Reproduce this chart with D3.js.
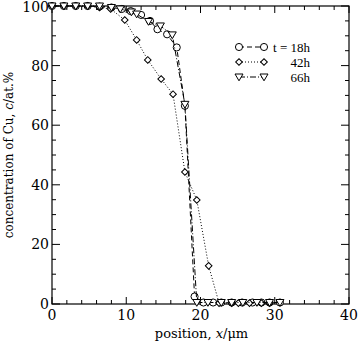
<!DOCTYPE html>
<html>
<head>
<meta charset="utf-8">
<script src="https://cdn.jsdelivr.net/npm/d3@7"></script>
<style>
  html, body { margin: 0; padding: 0; background: #fff; }
  svg { display: block; }
  text { font-family: "DejaVu Serif", "Liberation Serif", serif; fill: #000; }
  text.leg { font-family: "Liberation Serif", serif; }
</style>
</head>
<body>
<svg id="chart" width="359" height="345"></svg>
<script>
// Cu concentration profiles after annealing for 18 h, 42 h and 66 h
const x18 = [0, 1.6, 3.2, 4.8, 6.4, 8.0, 9.4, 10.6, 12.0, 13.2, 14.2, 15.5, 16.8, 17.9, 19.2, 20.4, 21.7, 22.8, 24.2, 25.6, 27.0, 28.2, 29.3, 30.7];
const c18 = [100, 100, 100, 100, 99.8, 99.5, 99, 98.3, 97, 95, 92.2, 90.5, 86.1, 66.5, 2.5, 0.5, 0.5, 0.5, 0.5, 0.5, 0.5, 0.5, 0.5, 0.5];

const x42 = [0, 1.6, 3.2, 4.8, 6.4, 7.9, 9.8, 11.4, 12.9, 14.7, 16.3, 17.9, 19.5, 21.1, 22.5, 24.2, 25.1, 26.6, 28.2, 29.3];
const c42 = [100, 100, 100, 100, 99.5, 99, 95.3, 88.6, 81.9, 75.5, 70.4, 44.3, 34.9, 12.8, 0.3, 0.3, 0.3, 0.3, 0.3, 0.3];

const x66 = [0, 1.6, 3.2, 4.8, 6.4, 8.0, 9.2, 10.7, 11.4, 13.0, 14.6, 16.2, 17.9, 19.5, 21.0, 22.8, 24.2, 25.7, 27.6, 29.3, 30.7];
const c66 = [100, 100, 100, 100, 100, 99.5, 99, 98, 97.3, 94.8, 93.3, 90.3, 67, 0.5, 0.5, 0.5, 0.5, 0.5, 0.5, 0.5, 0.5];

const xTicks = [0, 10, 20, 30, 40];
const yTicks = [0, 20, 40, 60, 80, 100];
const legendLabels = ["t = 18h", "42h", "66h"];

const svg = d3.select("#chart");
const pl = 52, pr = 349, pt = 6, pb = 304;

const x = d3.scaleLinear().domain([0, 40]).range([pl, pr]);
const y = d3.scaleLinear().domain([0, 100]).range([pb, pt]);

// frame
svg.append("rect")
  .attr("x", pl).attr("y", pt)
  .attr("width", pr - pl).attr("height", pb - pt)
  .attr("fill", "none").attr("stroke", "#000").attr("stroke-width", 1.2);

// inward ticks on all four sides
const xMinor = d3.range(0, 40.01, 2);
const yMinor = d3.range(0, 100.01, 5);
const g = svg.append("g").attr("stroke", "#000").attr("stroke-width", 1);

xMinor.forEach(v => {
  const major = v % 10 === 0;
  const len = major ? 7 : 4;
  g.append("line").attr("x1", x(v)).attr("x2", x(v)).attr("y1", pb).attr("y2", pb - len);
  g.append("line").attr("x1", x(v)).attr("x2", x(v)).attr("y1", pt).attr("y2", pt + len);
});
yMinor.forEach(v => {
  const major = v % 20 === 0;
  const len = major ? 8 : 4;
  g.append("line").attr("x1", pl).attr("x2", pl + len).attr("y1", y(v)).attr("y2", y(v));
  g.append("line").attr("x1", pr).attr("x2", pr - len).attr("y1", y(v)).attr("y2", y(v));
});

// tick labels
svg.append("g").selectAll("text").data(xTicks).join("text")
  .attr("x", d => x(d)).attr("y", pb + 16)
  .attr("text-anchor", "middle").attr("font-size", 14)
  .text(d => d);
svg.append("g").selectAll("text").data(yTicks).join("text")
  .attr("x", pl - 3).attr("y", d => y(d) + (d === 100 ? 5.5 : 5))
  .attr("text-anchor", "end").attr("font-size", 14)
  .text(d => d);

// axis titles
const xt = svg.append("text")
  .attr("x", (pl + pr) / 2 + 1).attr("y", 338)
  .attr("text-anchor", "middle").attr("font-size", 13);
xt.append("tspan").text("position, ");
xt.append("tspan").attr("font-style", "italic").text("x");
xt.append("tspan").text("/μm");

const yt = svg.append("text")
  .attr("transform", `translate(13,${(pt + pb) / 2}) rotate(-90)`)
  .attr("text-anchor", "middle").attr("font-size", 12);
yt.append("tspan").text("concentration of Cu, ");
yt.append("tspan").attr("font-style", "italic").text("c");
yt.append("tspan").text("/at.%");

// marker shapes
const circleSym = d3.symbol().type(d3.symbolCircle).size(40);
const diamondSym = d3.symbol().type(d3.symbolSquare).size(22);
function triPath(cx, cy) {
  const s = 4;
  return `M${cx - s},${cy - s * 0.75}L${cx + s},${cy - s * 0.75}L${cx},${cy + s * 0.95}Z`;
}

const series = [
  { xs: x18, cs: c18, dash: "5,3", marker: "circle" },
  { xs: x42, cs: c42, dash: "1,2", marker: "diamond" },
  { xs: x66, cs: c66, dash: "6,2,1,2", marker: "triangle" }
];

const line = d3.line().x(d => x(d[0])).y(d => y(d[1]));

function drawMarker(sel, kind, px, py) {
  if (kind === "circle") {
    sel.append("path").attr("d", circleSym()).attr("transform", `translate(${px},${py})`);
  } else if (kind === "diamond") {
    sel.append("path").attr("d", diamondSym()).attr("transform", `translate(${px},${py}) rotate(45)`);
  } else {
    sel.append("path").attr("d", triPath(px, py));
  }
}

series.forEach(s => {
  const pts = s.xs.map((v, i) => [v, s.cs[i]]);
  svg.append("path").datum(pts)
    .attr("d", line).attr("fill", "none")
    .attr("stroke", "#000").attr("stroke-width", 1)
    .attr("stroke-dasharray", s.dash);
  const mg = svg.append("g").attr("fill", "#fff").attr("stroke", "#000").attr("stroke-width", 1);
  pts.forEach(p => drawMarker(mg, s.marker, x(p[0]), y(p[1])));
});

// legend
const legY = [47, 62, 77];
series.forEach((s, i) => {
  const lg = svg.append("g");
  lg.append("line").attr("x1", 239).attr("x2", 264).attr("y1", legY[i]).attr("y2", legY[i])
    .attr("stroke", "#000").attr("stroke-width", 1).attr("stroke-dasharray", s.dash);
  const mg = lg.append("g").attr("fill", "#fff").attr("stroke", "#000").attr("stroke-width", 1);
  drawMarker(mg, s.marker, 239, legY[i]);
  drawMarker(mg, s.marker, 264, legY[i]);
  lg.append("text").attr("class", "leg").attr("x", 310).attr("y", legY[i] + 4.5)
    .attr("text-anchor", "end").attr("font-size", 13)
    .text(legendLabels[i]);
});
</script>
</body>
</html>
